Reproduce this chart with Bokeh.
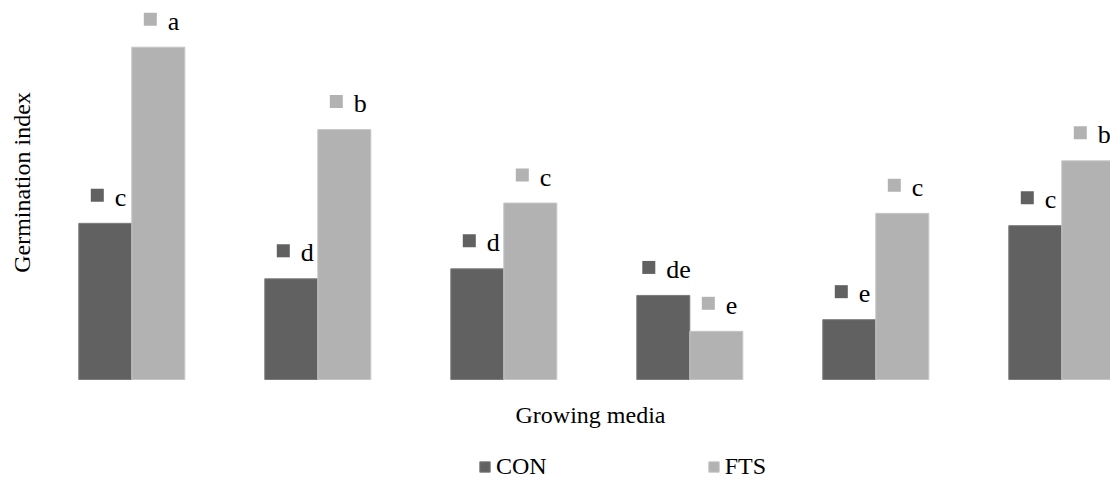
import numpy as np
from bokeh.plotting import figure
from bokeh.models import ColumnDataSource, Range1d, Legend, LegendItem, Label
from bokeh.core.properties import value
from bokeh.embed import file_html
from bokeh.resources import INLINE

# Germination index per growing medium, control vs. FTS treatment
media = ["GM1", "GM2", "GM3", "GM4", "GM5", "GM6"]
con = [47.0, 30.3, 33.3, 25.3, 18.0, 46.3]
fts = [100.0, 75.2, 53.1, 14.5, 50.0, 65.8]
con_letters = ["c", "d", "d", "de", "e", "c"]
fts_letters = ["a", "b", "c", "e", "c", "b"]
series_names = ["CON", "FTS"]

CON_COLOR = "#616161"
FTS_COLOR = "#b2b2b2"
FONT = "'Liberation Serif', 'Times New Roman', Times, serif"

W, H = 1110, 479
GROUP_PX = 186.0      # pixels between neighbouring groups
Y_PX = 3.323          # pixels per index unit
FIRST_PX = 131.3      # screen x of the first group centre
BASE_PX = 100.0       # height of the area under the bars

x_range = Range1d(-FIRST_PX / GROUP_PX, (W - FIRST_PX) / GROUP_PX)
y_range = Range1d(-BASE_PX / Y_PX, (H - BASE_PX) / Y_PX)

p = figure(width=W, height=H, x_range=x_range, y_range=y_range,
           output_backend="svg", toolbar_location=None,
           min_border=0, min_border_left=0, min_border_right=0,
           min_border_top=0, min_border_bottom=0)
p.axis.visible = False
p.grid.visible = False
p.outline_line_color = None
p.background_fill_color = "white"
p.border_fill_color = "white"

idx = np.arange(len(media))
BAR_W = 0.285
DODGE = BAR_W / 2


def label_source(xs, vals, letters):
    sq_x, lab_y, txt_off = [], [], []
    for x, v, t in zip(xs, vals, letters):
        sq_off = -8.0 - 6.5 * (len(t) - 1)
        sq_x.append(x + sq_off / GROUP_PX)
        lab_y.append(v + 28.0 / Y_PX)
        txt_off.append(17.5)
    return ColumnDataSource(dict(x=sq_x, y=lab_y, text=letters, off=txt_off))


renderers = []
for vals, letters, color, edge, shift in [
        (con, con_letters, CON_COLOR, "#7c7c7c", -DODGE),
        (fts, fts_letters, FTS_COLOR, "#c6c6c6", DODGE)]:
    xs = idx + shift
    src = ColumnDataSource(dict(x=xs, top=vals))
    r = p.vbar(x="x", top="top", bottom=0, width=BAR_W, source=src,
               fill_color=color, line_color=edge, line_width=1)
    renderers.append(r)

    lsrc = label_source(xs, vals, letters)
    p.scatter(x="x", y="y", source=lsrc, marker="square", size=13,
              fill_color=color, line_color=None)
    p.text(x="x", y="y", text="text", source=lsrc, x_offset="off", y_offset=2,
           text_font=value(FONT), text_font_size="26px", text_color="black",
           text_align="left", text_baseline="alphabetic")

# axis titles
p.add_layout(Label(x=21, y=H - 182, x_units="screen", y_units="screen",
                   text="Germination index", angle=np.pi / 2,
                   text_font=FONT, text_font_size="24px", text_color="black",
                   text_align="center", text_baseline="alphabetic"))
p.add_layout(Label(x=590, y=H - 414, x_units="screen", y_units="screen",
                   text="Growing media",
                   text_font=FONT, text_font_size="24px", text_color="black",
                   text_align="center", text_baseline="alphabetic"))

legend = Legend(items=[LegendItem(label=n, renderers=[r])
                       for n, r in zip(series_names, renderers)],
                orientation="horizontal", location=(478, -1),
                glyph_width=13, glyph_height=13, label_standoff=5,
                spacing=160, padding=0, margin=0,
                border_line_color=None, background_fill_alpha=0,
                label_text_font=FONT, label_text_font_size="24px",
                label_text_color="black")
p.add_layout(legend)

open("out.html", "w").write(file_html(p, INLINE))
